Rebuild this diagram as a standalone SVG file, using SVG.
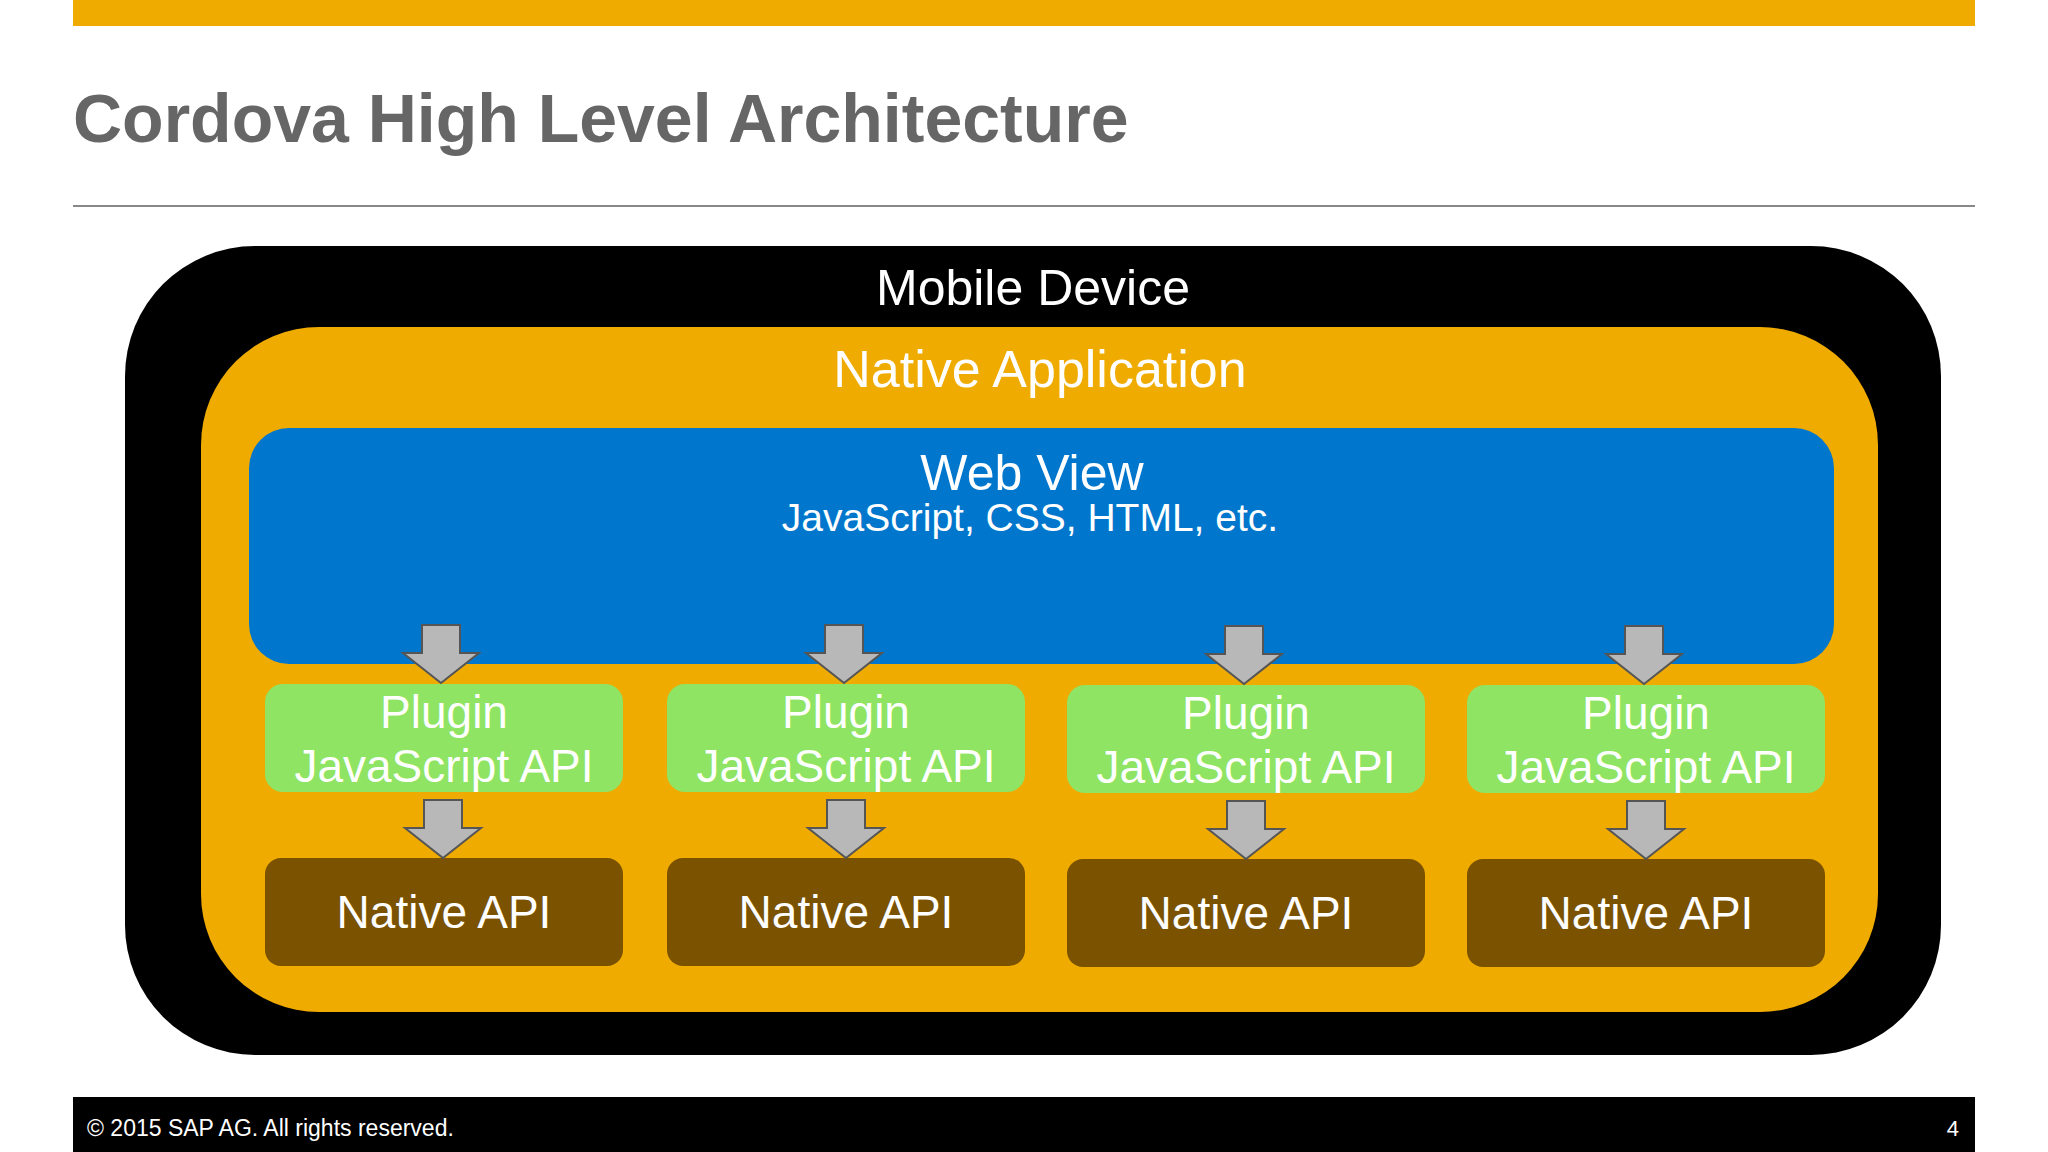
<svg xmlns="http://www.w3.org/2000/svg" width="2048" height="1152" viewBox="0 0 2048 1152">
<style>
text{font-family:"Liberation Sans",Arial,sans-serif;fill:#fff;text-anchor:middle}
.pl{fill:#8fe463}.na{fill:#7a5200}.ar{fill:#b8b8b8;stroke:#555;stroke-width:2}
.t{font-size:46px}
</style>
<defs>
<path id="arr" d="M-19,0 H19 V28 H38 L0,58 L-38,28 H-19 Z"/>
</defs>
<rect width="2048" height="1152" fill="#fff"/>
<rect x="73" y="0" width="1902" height="26" fill="#f0ab00"/>
<text x="73" y="142" style="font-size:68px;font-weight:bold;fill:#666;text-anchor:start">Cordova High Level Architecture</text>
<rect x="73" y="205" width="1902" height="2" fill="#888"/>
<g id="device"><rect x="125" y="246" width="1816" height="809" rx="130" fill="#000"/>
<text x="1033" y="305" style="font-size:50px">Mobile Device</text></g>
<g id="app"><rect x="201" y="327" width="1677" height="685" rx="118" fill="#f0ab00"/>
<text x="1040" y="387" style="font-size:52px">Native Application</text></g>
<g id="web"><rect x="249" y="428" width="1585" height="236" rx="40" fill="#0077cc"/>
<text x="1032" y="490" style="font-size:50px">Web View</text>
<text x="1030" y="531" style="font-size:39px">JavaScript, CSS, HTML, etc.</text></g>
<g id="p1"><rect class="pl" x="265" y="684" width="358" height="108" rx="18"/><text class="t" x="444" y="728">Plugin</text><text class="t" x="444" y="782">JavaScript API</text></g>
<g id="p2"><rect class="pl" x="667" y="684" width="358" height="108" rx="18"/><text class="t" x="846" y="728">Plugin</text><text class="t" x="846" y="782">JavaScript API</text></g>
<g id="p3"><rect class="pl" x="1067" y="685" width="358" height="108" rx="18"/><text class="t" x="1246" y="729">Plugin</text><text class="t" x="1246" y="783">JavaScript API</text></g>
<g id="p4"><rect class="pl" x="1467" y="685" width="358" height="108" rx="18"/><text class="t" x="1646" y="729">Plugin</text><text class="t" x="1646" y="783">JavaScript API</text></g>
<g id="n1"><rect class="na" x="265" y="858" width="358" height="108" rx="16"/><text class="t" x="444" y="928">Native API</text></g>
<g id="n2"><rect class="na" x="667" y="858" width="358" height="108" rx="16"/><text class="t" x="846" y="928">Native API</text></g>
<g id="n3"><rect class="na" x="1067" y="859" width="358" height="108" rx="16"/><text class="t" x="1246" y="929">Native API</text></g>
<g id="n4"><rect class="na" x="1467" y="859" width="358" height="108" rx="16"/><text class="t" x="1646" y="929">Native API</text></g>
<g id="connectors">
<use href="#arr" class="ar" x="441" y="625"/><use href="#arr" class="ar" x="844" y="625"/><use href="#arr" class="ar" x="1244" y="626"/><use href="#arr" class="ar" x="1644" y="626"/>
<use href="#arr" class="ar" x="443" y="800"/><use href="#arr" class="ar" x="846" y="800"/><use href="#arr" class="ar" x="1246" y="801"/><use href="#arr" class="ar" x="1646" y="801"/>
</g>
<rect x="73" y="1097" width="1902" height="55" fill="#000"/>
<text x="87" y="1136" style="font-size:23px;text-anchor:start">©  2015 SAP AG. All rights reserved.</text>
<text x="1959" y="1136" style="font-size:22px;text-anchor:end">4</text>
</svg>
